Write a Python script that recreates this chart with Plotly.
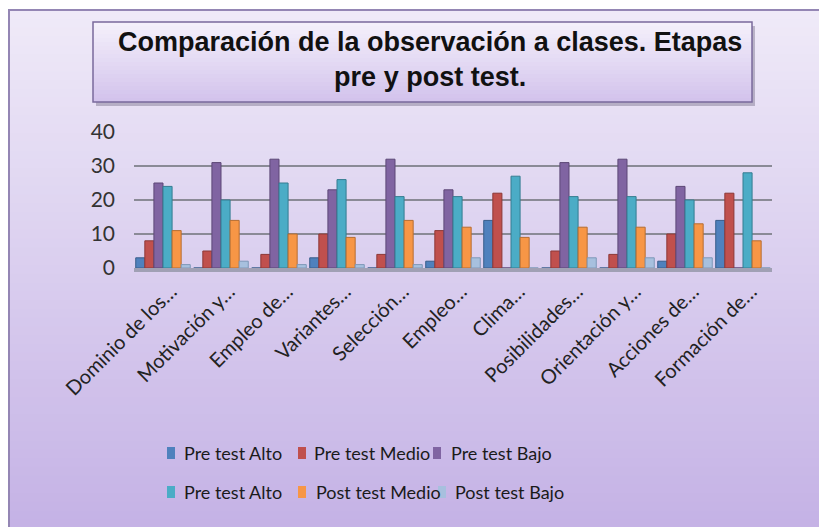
import plotly.graph_objects as go

W, H = 827, 527

categories = [
    "Dominio de los…", "Motivación y…", "Empleo de…", "Variantes…",
    "Selección…", "Empleo…", "Clima…", "Posibilidades…",
    "Orientación y…", "Acciones de…", "Formación de…",
]

pre_alto = [3, 0, 0, 3, 0, 2, 14, 0, 0, 2, 14]
pre_medio = [8, 5, 4, 10, 4, 11, 22, 5, 4, 10, 22]
pre_bajo = [25, 31, 32, 23, 32, 23, 0, 31, 32, 24, 0]
pre_alto_2 = [24, 20, 25, 26, 21, 21, 27, 21, 21, 20, 28]
post_medio = [11, 14, 10, 9, 14, 12, 9, 12, 12, 13, 8]
post_bajo = [1, 2, 1, 1, 1, 3, 0, 3, 3, 3, 0]

series = [
    ("Pre test Alto", pre_alto, "#4F81BD", "#385D8A"),
    ("Pre test Medio", pre_medio, "#C0504D", "#8C3836"),
    ("Pre test Bajo", pre_bajo, "#8064A2", "#5C4776"),
    ("Pre test Alto", pre_alto_2, "#4BACC6", "#357D91"),
    ("Post test Medio", post_medio, "#F79646", "#B66D31"),
    ("Post test Bajo", post_bajo, "#A7C0DE", "#7E98B8"),
]

# the page body has an 8px margin, so screen px -> figure px is (px - 8)
OFF = 8


def fx(px):
    return (px - OFF) / W


def fy(py):
    return 1 - (py - OFF) / H


def mix(c1, c2, t):
    a = [int(c1[i:i + 2], 16) for i in (1, 3, 5)]
    b = [int(c2[i:i + 2], 16) for i in (1, 3, 5)]
    return "#%02x%02x%02x" % tuple(round(a[k] + (b[k] - a[k]) * t) for k in range(3))


fig = go.Figure()

for name, vals, color, edge in series:
    fig.add_trace(go.Bar(
        x=categories,
        y=vals,
        name=name,
        marker=dict(color=color, line=dict(color=edge, width=1)),
    ))

shapes = []
annotations = []

# background gradient of the chart area
n = 60
top_y, bot_y = 10, H + 10
for i in range(n):
    y0 = top_y + (bot_y - top_y) * i / n
    y1 = top_y + (bot_y - top_y) * (i + 1) / n + 1.5
    shapes.append(dict(
        type="rect", xref="paper", yref="paper", layer="below",
        x0=fx(9), x1=fx(W + 10), y0=fy(y1), y1=fy(y0),
        fillcolor=mix("#EFEAF8", "#C4B1E5", i / (n - 1)), line=dict(width=0),
    ))
# outer frame
shapes.append(dict(
    type="rect", xref="paper", yref="paper", layer="below",
    x0=fx(9), x1=fx(W + 20), y0=fy(H + 20), y1=fy(10),
    line=dict(color="#9486B4", width=2), fillcolor="rgba(0,0,0,0)",
))

# title box: shadow, gradient, border
bx0, bx1, by0, by1 = 93, 752, 22, 102
shapes.append(dict(
    type="rect", xref="paper", yref="paper", layer="below",
    x0=fx(bx0 + 3), x1=fx(bx1 + 3), y0=fy(by1 + 4), y1=fy(by0 + 4),
    fillcolor="rgba(90,80,110,0.35)", line=dict(width=0),
))
m = 20
for i in range(m):
    y0 = by0 + (by1 - by0) * i / m
    y1 = min(by1, by0 + (by1 - by0) * (i + 1) / m + 1)
    shapes.append(dict(
        type="rect", xref="paper", yref="paper", layer="below",
        x0=fx(bx0), x1=fx(bx1), y0=fy(y1), y1=fy(y0),
        fillcolor=mix("#F4F0FB", "#D3C3EC", i / (m - 1)), line=dict(width=0),
    ))
shapes.append(dict(
    type="rect", xref="paper", yref="paper", layer="below",
    x0=fx(bx0), x1=fx(bx1), y0=fy(by1), y1=fy(by0),
    line=dict(color="#7A6A9C", width=1.5), fillcolor="rgba(0,0,0,0)",
))

annotations.append(dict(
    text="<b>Comparación de la observación a clases. Etapas<br>pre y post test.</b>",
    xref="paper", yref="paper", x=fx(430), y=fy(60),
    xanchor="center", yanchor="middle", showarrow=False,
    font=dict(family="Liberation Sans", size=27, color="#111111"),
))

# legend drawn by hand: 3 columns x 2 rows (marker left x, text left x, row y)
legend_slots = [
    (167, 182, 453), (298, 312, 453), (433, 449, 453),
    (167, 182, 492), (298, 314, 492), (438, 453, 492),
]
for (name, _, color, _), (mx, tx, ly) in zip(series, legend_slots):
    shapes.append(dict(
        type="rect", xref="paper", yref="paper",
        x0=fx(mx), x1=fx(mx + 8), y0=fy(ly + 6), y1=fy(ly - 6),
        fillcolor=color, line=dict(width=0),
    ))
    annotations.append(dict(
        text=name, xref="paper", yref="paper", x=fx(tx), y=fy(ly),
        xanchor="left", yanchor="middle", showarrow=False,
        font=dict(family="Lato", size=18, color="#1A1A1A"),
    ))

fig.update_layout(
    width=W,
    height=H,
    template="none",
    margin=dict(l=0, r=0, t=0, b=0),
    paper_bgcolor="white",
    plot_bgcolor="rgba(0,0,0,0)",
    barmode="group",
    bargap=0.06,
    bargroupgap=0,
    showlegend=False,
    shapes=shapes,
    annotations=annotations,
    font=dict(family="Lato", color="#222222"),
    xaxis=dict(
        domain=[fx(134), fx(772)],
        tickangle=-45,
        tickfont=dict(family="Lato", size=20, color="#222222"),
        ticklabelshift=8,
        showgrid=False,
        showline=True,
        linecolor="#A0A0B4",
        linewidth=4,
        ticks="",
        automargin=False,
    ),
    yaxis=dict(
        domain=[fy(268), fy(132)],
        range=[0, 40],
        tickvals=[0, 10, 20, 30, 40],
        tickfont=dict(family="Lato", size=21, color="#333333"),
        showgrid=True,
        gridcolor="#8A8A96",
        gridwidth=1.5,
        zeroline=False,
        ticks="",
        ticklabelstandoff=18,
        automargin=False,
    ),
)

fig.write_html("out.html")
